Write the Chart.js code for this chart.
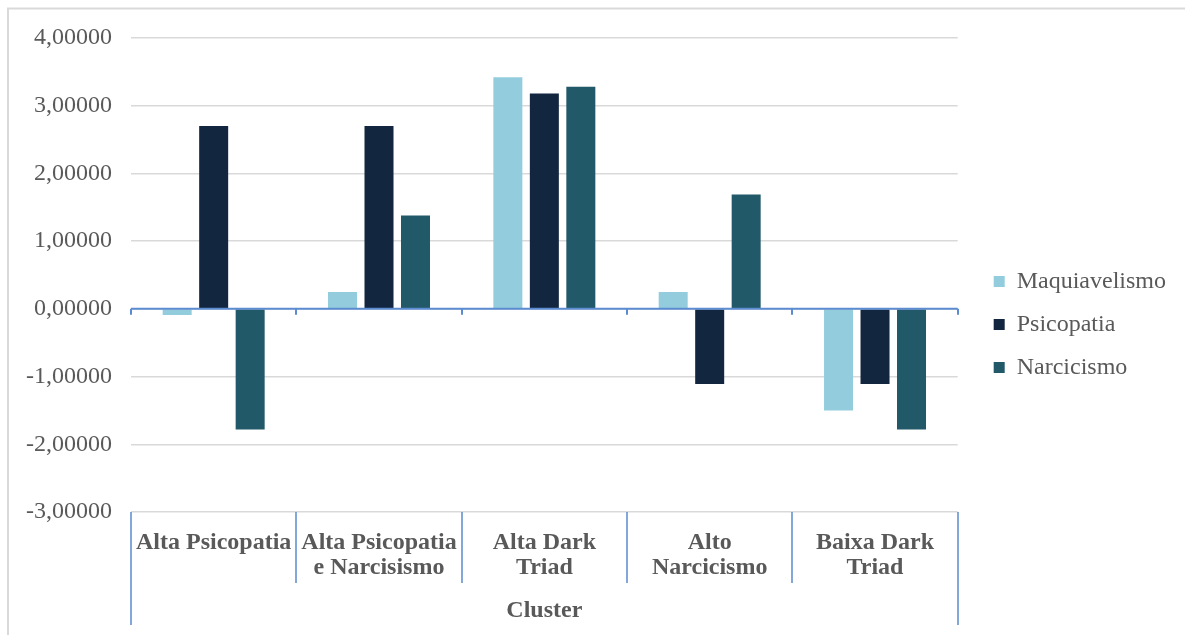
<!DOCTYPE html>
<html>
<head>
<meta charset="utf-8">
<script src="https://cdn.jsdelivr.net/npm/chart.js@4"></script>
<style>
  html, body { margin: 0; padding: 0; background: #fff; }
  canvas { display: block; }
</style>
</head>
<body>
<canvas id="grafico" width="1185" height="635"></canvas>
<script>
// categorias (clusters) e valores
const clusters = [
  ["Alta Psicopatia"],
  ["Alta Psicopatia", "e Narcisismo"],
  ["Alta Dark", "Triad"],
  ["Alto", "Narcicismo"],
  ["Baixa Dark", "Triad"]
];
const maquiavelismo = [-0.09, 0.25, 3.42, 0.25, -1.50];
const psicopatia = [2.70, 2.70, 3.18, -1.11, -1.11];
const narcicismo = [-1.78, 1.38, 3.28, 1.69, -1.78];
const ticksY = [-3, -2, -1, 0, 1, 2, 3, 4];
const tituloEixo = "Cluster";

const corTexto = "#595959";
const corGrade = "#d9d9d9";
const corEixo = "#5b8bd0";

const fmt = v => v.toFixed(5).replace(".", ",");

// linhas extras: moldura, eixo no zero e divisorias das categorias
const extras = {
  id: "extras",
  afterLayout(chart) {
    const lg = chart.legend;
    lg.left += 17; lg.right += 17;
    lg.top -= 12; lg.bottom -= 12;
  },
  beforeDraw(chart) {
    const ctx = chart.ctx;
    ctx.save();
    ctx.strokeStyle = corGrade;
    ctx.lineWidth = 2;
    ctx.beginPath();
    ctx.moveTo(8, chart.height);
    ctx.lineTo(8, 8.5);
    ctx.lineTo(chart.width, 8.5);
    ctx.stroke();
    ctx.restore();
  },
  afterDatasetsDraw(chart) {
    const { ctx, chartArea, scales: { x, y } } = chart;
    const n = clusters.length;
    const y0 = y.getPixelForValue(0);
    ctx.save();
    ctx.strokeStyle = corEixo;
    ctx.lineWidth = 2;
    ctx.beginPath();
    ctx.moveTo(chartArea.left, y0);
    ctx.lineTo(chartArea.right, y0);
    for (let i = 0; i <= n; i++) {
      const px = Math.round(x.getPixelForValue(i - 0.5));
      ctx.moveTo(px, y0);
      ctx.lineTo(px, y0 + 6);
    }
    ctx.stroke();

    ctx.lineWidth = 1.5;
    ctx.beginPath();
    for (let i = 0; i <= n; i++) {
      const px = Math.round(x.getPixelForValue(i - 0.5));
      const fim = (i === 0 || i === n) ? 625 : 583;
      ctx.moveTo(px, chartArea.bottom);
      ctx.lineTo(px, fim);
    }
    ctx.stroke();
    ctx.restore();
  }
};

new Chart(document.getElementById("grafico").getContext("2d"), {
  type: "bar",
  data: {
    labels: clusters,
    datasets: [
      { label: "Maquiavelismo", data: maquiavelismo, backgroundColor: "#93cddd" },
      { label: "Psicopatia", data: psicopatia, backgroundColor: "#12263f" },
      { label: "Narcicismo", data: narcicismo, backgroundColor: "#215968" }
    ]
  },
  options: {
    responsive: false,
    animation: false,
    devicePixelRatio: 1,
    categoryPercentage: 0.662,
    barPercentage: 0.795,
    layout: { padding: { top: 38, right: 26, bottom: 0, left: 0 } },
    plugins: {
      legend: {
        position: "right",
        labels: {
          boxWidth: 11,
          boxHeight: 11,
          padding: 19,
          color: corTexto,
          font: { family: "'Liberation Serif', 'Times New Roman', serif", size: 24 }
        }
      },
      tooltip: { enabled: false }
    },
    scales: {
      x: {
        grid: { display: false, drawTicks: false },
        border: { display: false },
        ticks: {
          autoSkip: false,
          maxRotation: 0,
          padding: 18,
          color: corTexto,
          font: { family: "'Liberation Serif', 'Times New Roman', serif", size: 24, weight: "bold", lineHeight: 1.06 }
        },
        title: {
          display: true,
          text: tituloEixo,
          color: corTexto,
          padding: { top: 0, bottom: 10 },
          font: { family: "'Liberation Serif', 'Times New Roman', serif", size: 24, weight: "bold" }
        },
        afterFit(scale) { scale.height = 123; }
      },
      y: {
        min: -3,
        max: 4,
        afterBuildTicks(scale) { scale.ticks = ticksY.map(v => ({ value: v })); },
        grid: { color: corGrade, lineWidth: 1.5, drawTicks: false },
        border: { display: false },
        ticks: {
          padding: 19,
          color: corTexto,
          font: { family: "'Liberation Serif', 'Times New Roman', serif", size: 24 },
          callback: v => fmt(v)
        },
        afterFit(scale) { scale.width = 131; }
      }
    }
  },
  plugins: [extras]
});
</script>
</body>
</html>
